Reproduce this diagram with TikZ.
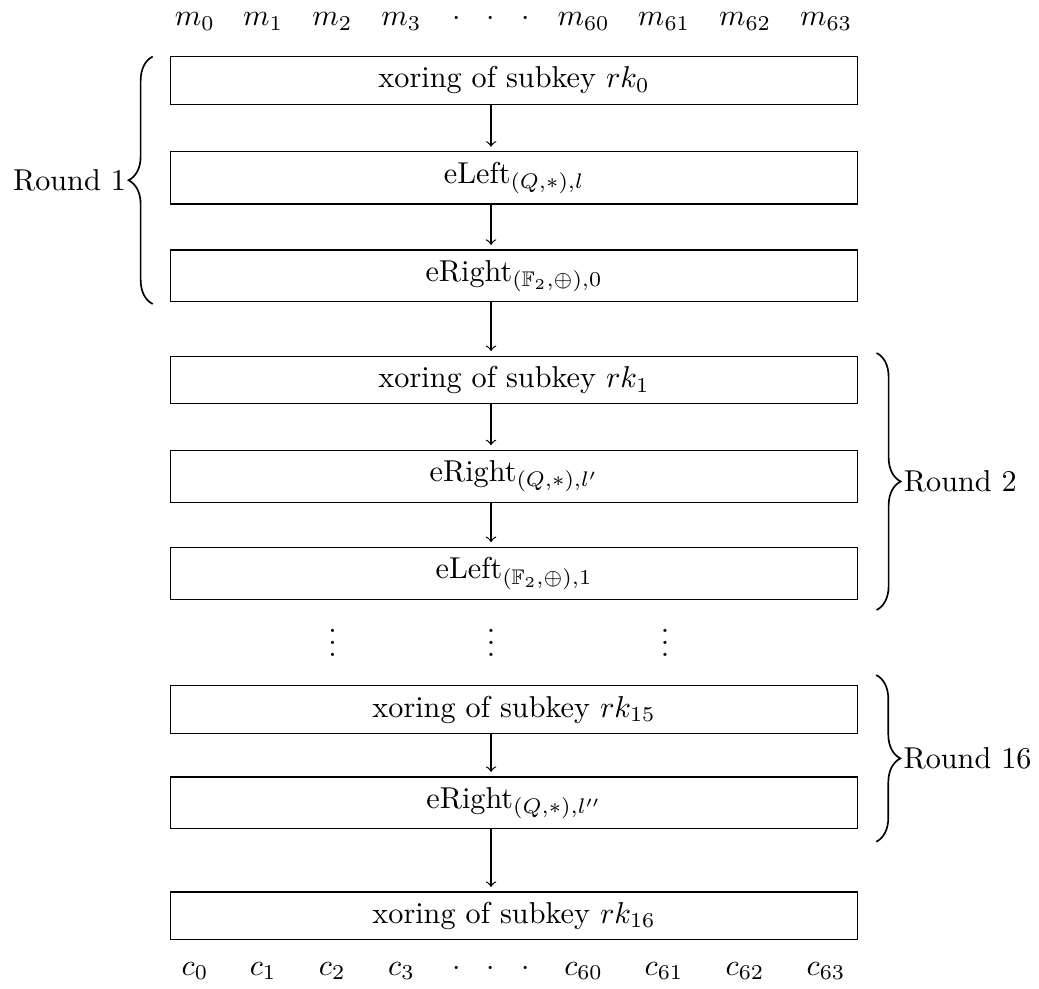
\documentclass[tikz,border=0pt]{standalone}
\usepackage{amssymb}
\usetikzlibrary{decorations.pathreplacing}
\begin{document}
\begin{tikzpicture}[scale = 1,
		op/.style={draw, minimum width=8cm},
		bit/.style={anchor=base, inner sep=0pt},
		rbrace/.style={decorate, decoration={brace, amplitude=8pt}, line width=0.55pt}]
			\useasboundingbox (0,0) rectangle (12.095,-11.502);
			\coordinate (ax) at (5.716,0);
			\node[op] (x0) at (5.985,-0.935) {xoring of subkey $rk_0$};
			\node[op] (el0) at (5.985,-2.071) {eLeft$_{(Q,*),l}$};
			\node[op] (er0) at (5.985,-3.212) {eRight$_{(\mathbb{F}_2,\oplus),0}$};
			\node[op] (x1) at (5.985,-4.424) {xoring of subkey $rk_1$};
			\node[op] (er1) at (5.985,-5.544) {eRight$_{(Q,*),l'}$};
			\node[op] (el1) at (5.985,-6.674) {eLeft$_{(\mathbb{F}_2,\oplus),1}$};
			\node[op] (x15) at (5.985,-8.260) {xoring of subkey $rk_{15}$};
			\node[op] (er15) at (5.985,-9.347) {eRight$_{(Q,*),l''}$};
			\node[op] (x16) at (5.985,-10.662) {xoring of subkey $rk_{16}$};
			\foreach \a/\b in {x0/el0, el0/er0, er0/x1, x1/er1, er1/el1, x15/er15, er15/x16}{
			  \draw[->, shorten >=1.5pt] (\a.south -| ax) -- (\b.north -| ax);
			}
			\foreach \x/\m/\c [count=\i] in {2.27/m_0/c_0, 3.064/m_1/c_1, 3.868/m_2/c_2, 4.674/m_3/c_3,
			    5.317/\cdot/\cdot, 5.716/\cdot/\cdot, 6.123/\cdot/\cdot,
			    6.795/m_{60}/c_{60}, 7.730/m_{61}/c_{61}, 8.673/m_{62}/c_{62}, 9.616/m_{63}/c_{63}}{
			  \node[bit] (m\i) at (\x,-0.30) {$\m$};
			  \node[bit] (c\i) at (\x,-11.35) {$\c$};
			}
			\foreach \x [count=\i] in {3.871, 5.716, 7.741}{
			  \node[bit] (v\i) at (\x,-7.644) {$\vdots$};
			}
			\coordinate (r1top) at (1.778,-0.658);
			\coordinate (r1bot) at (1.778,-3.539);
			\coordinate (r2top) at (10.204,-4.109);
			\coordinate (r2bot) at (10.204,-7.101);
			\coordinate (r16top) at (10.200,-7.858);
			\coordinate (r16bot) at (10.200,-9.799);
			\draw[rbrace] (r1bot) -- (r1top) node[midway, left, xshift=-8.6pt, inner sep=0pt] (round1) {Round 1};
			\draw[rbrace] (r2top) -- (r2bot) node[midway, right, xshift=8.8pt, inner sep=0pt] (round2) {Round 2};
			\draw[rbrace] (r16top) -- (r16bot) node[midway, right, xshift=8.8pt, inner sep=0pt] (round16) {Round 16};
		\end{tikzpicture}
\end{document}
